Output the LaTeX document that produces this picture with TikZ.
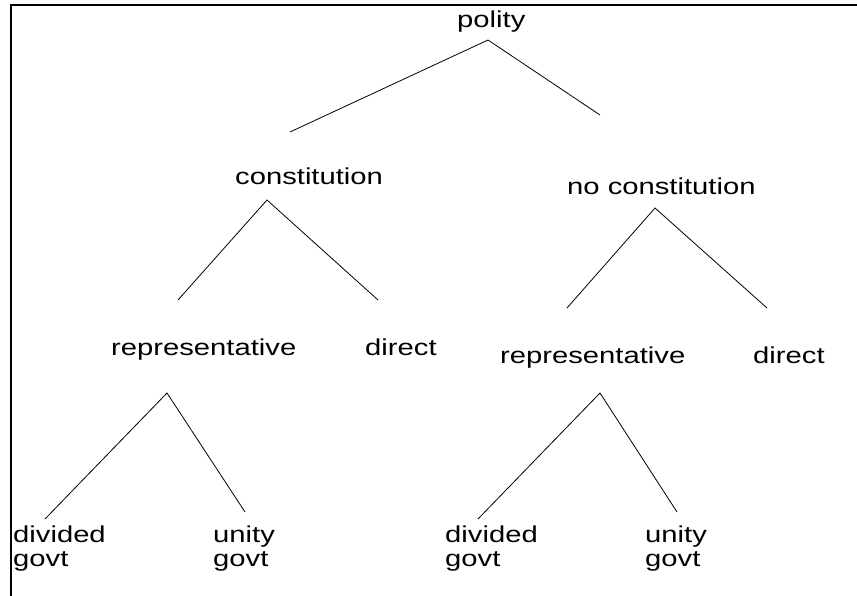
\documentclass[tikz,border=0pt]{standalone}
\usepackage{fontspec}
\setmainfont{Liberation Sans}[FakeStretch=1.27]
\usepackage{tikz}
\usetikzlibrary{positioning}

\begin{document}
\begin{tikzpicture}[x=1pt,y=-1pt,
    lbl/.style={anchor=base west,inner sep=0pt,align=left,font=\fontsize{23}{24}\selectfont},
    branch/.style={line width=0.8pt}]
  \useasboundingbox (0,0) rectangle (857,596);
  \draw[line width=2.6pt] (11,596) -- (11,5) -- (857,5);
  % labels
  \node[lbl] (polity) at (457,28) {polity};
  \node[lbl] (con)    at (235,185) {constitution};
  \node[lbl] (nocon)  at (567,195) {no constitution};
  \node[lbl] (repL)   at (111,355) {representative};
  \node[lbl] (dirL)   at (365,355) {direct};
  \node[lbl] (repR)   at (500,363) {representative};
  \node[lbl] (dirR)   at (753,363) {direct};
  \node[lbl] (divL)   at (13,566)  {divided\\govt};
  \node[lbl] (uniL)   at (213,566) {unity\\govt};
  \node[lbl] (divR)   at (445,566) {divided\\govt};
  \node[lbl] (uniR)   at (645,566) {unity\\govt};
  % branch points: top / left end / right end
  \foreach \n/\x/\y in {pt/488/40, pl/290/132, pr/600/115,
                        ct/267/200, cl/178/300, cr/378/300,
                        nt/655/208, nl/567/308, nr/767/308,
                        rt/167/393, rl/45/519, rr/245/512,
                        st/600/393, sl/478/519, sr/677/512}
    \coordinate (\n) at (\x,\y);
  \foreach \a in {p,c,n,r,s}
    \draw[branch] (\a l) -- (\a t) -- (\a r);
\end{tikzpicture}
\end{document}
